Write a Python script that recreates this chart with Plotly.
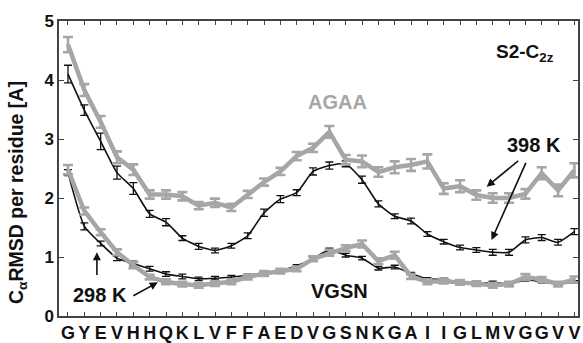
import plotly.graph_objects as go

residues = list("GYEVHHQKLVFFAEDVGSNKGAIIGLMVGGVV")
idx = list(range(len(residues)))

agaa_398 = [4.60, 3.83, 3.29, 2.69, 2.48, 2.06, 2.06, 2.03, 1.87, 1.92, 1.84, 2.06, 2.27, 2.45, 2.71, 2.85,
            3.12, 2.65, 2.62, 2.44, 2.52, 2.56, 2.62, 2.16, 2.20, 2.05, 2.00, 2.00, 2.07, 2.42, 2.13, 2.47]
agaa_398_err = [0.13, 0.10, 0.10, 0.10, 0.09, 0.07, 0.07, 0.07, 0.06, 0.07, 0.06, 0.06, 0.06, 0.06, 0.07, 0.07,
                0.10, 0.08, 0.10, 0.08, 0.10, 0.10, 0.12, 0.09, 0.10, 0.08, 0.08, 0.08, 0.08, 0.10, 0.10, 0.12]

vgsn_398 = [4.10, 3.49, 2.96, 2.43, 2.16, 1.73, 1.59, 1.32, 1.18, 1.11, 1.19, 1.36, 1.75, 1.98, 2.09, 2.45,
            2.55, 2.58, 2.31, 1.90, 1.69, 1.61, 1.39, 1.26, 1.16, 1.12, 1.08, 1.08, 1.29, 1.33, 1.25, 1.43]
vgsn_398_err = [0.15, 0.09, 0.14, 0.11, 0.10, 0.06, 0.06, 0.04, 0.05, 0.04, 0.04, 0.05, 0.06, 0.06, 0.05, 0.06,
                0.06, 0.05, 0.06, 0.05, 0.04, 0.05, 0.04, 0.04, 0.04, 0.04, 0.05, 0.05, 0.05, 0.05, 0.05, 0.05]

agaa_298 = [2.48, 1.78, 1.42, 1.08, 0.86, 0.66, 0.58, 0.54, 0.52, 0.55, 0.58, 0.66, 0.72, 0.76, 0.80, 0.97,
            1.07, 1.15, 1.22, 0.93, 1.03, 0.67, 0.58, 0.59, 0.57, 0.55, 0.52, 0.54, 0.66, 0.62, 0.54, 0.62]
agaa_298_err = [0.08, 0.06, 0.05, 0.05, 0.05, 0.04, 0.04, 0.04, 0.04, 0.04, 0.04, 0.04, 0.04, 0.04, 0.04, 0.04,
                0.05, 0.05, 0.06, 0.05, 0.06, 0.04, 0.04, 0.04, 0.04, 0.04, 0.04, 0.04, 0.05, 0.04, 0.04, 0.05]

vgsn_298 = [2.43, 1.52, 1.23, 0.98, 0.89, 0.80, 0.71, 0.67, 0.63, 0.64, 0.66, 0.69, 0.73, 0.77, 0.85, 0.97,
            1.12, 1.03, 0.98, 0.81, 0.83, 0.72, 0.63, 0.62, 0.57, 0.55, 0.57, 0.54, 0.61, 0.58, 0.54, 0.58]
vgsn_298_err = [0.05, 0.06, 0.04, 0.04, 0.04, 0.04, 0.04, 0.04, 0.03, 0.03, 0.03, 0.02, 0.02, 0.02, 0.02, 0.03,
                0.03, 0.03, 0.03, 0.03, 0.03, 0.02, 0.02, 0.02, 0.02, 0.02, 0.02, 0.02, 0.02, 0.02, 0.02, 0.02]

GRAY = "#a6a6a6"
BLACK = "#111111"
FONT = "Liberation Sans, Arial, sans-serif"

fig = go.Figure()

def black_trace(y, err, name):
    return go.Scatter(x=idx, y=y, mode="lines", name=name,
                      line=dict(color=BLACK, width=1.6, shape="spline", smoothing=0.5),
                      error_y=dict(type="data", array=err, visible=True, color=BLACK,
                                   thickness=1.3, width=4),
                      showlegend=False)

def gray_trace(y, err, name):
    return go.Scatter(x=idx, y=y, mode="lines", name=name,
                      line=dict(color=GRAY, width=4.5),
                      error_y=dict(type="data", array=err, visible=True, color=GRAY,
                                   thickness=2.6, width=5),
                      showlegend=False)

fig.add_trace(black_trace(vgsn_398, vgsn_398_err, "VGSN 398 K"))
fig.add_trace(black_trace(vgsn_298, vgsn_298_err, "VGSN 298 K"))
fig.add_trace(gray_trace(agaa_398, agaa_398_err, "AGAA 398 K"))
fig.add_trace(gray_trace(agaa_298, agaa_298_err, "AGAA 298 K"))

bold = dict(family=FONT, size=20, color=BLACK, weight="bold")

annotations = [
    dict(x=16.5, y=3.62, text="AGAA", showarrow=False,
         font=dict(family=FONT, size=20, color=GRAY, weight="bold")),
    dict(x=16.6, y=0.43, text="VGSN", showarrow=False, font=bold),
    dict(x=1.96, y=0.35, text="298 K", showarrow=False, font=bold),
    dict(x=28.5, y=2.90, text="398 K", showarrow=False, font=bold),
    dict(x=28.0, y=4.45, text="S2-C<sub>2z</sub>", showarrow=False,
         font=dict(family=FONT, size=19, color=BLACK, weight="bold")),
    # arrows
    dict(x=1.77, y=1.08, ax=1.77, ay=0.67, axref="x", ayref="y", xref="x", yref="y",
         text="", showarrow=True, arrowhead=2, arrowsize=1, arrowwidth=1.6, arrowcolor=BLACK),
    dict(x=5.5, y=0.57, ax=3.91, ay=0.33, axref="x", ayref="y", xref="x", yref="y",
         text="", showarrow=True, arrowhead=2, arrowsize=1, arrowwidth=1.6, arrowcolor=BLACK),
    dict(x=25.63, y=2.19, ax=27.65, ay=2.65, axref="x", ayref="y", xref="x", yref="y",
         text="", showarrow=True, arrowhead=2, arrowsize=1, arrowwidth=1.6, arrowcolor=BLACK),
    dict(x=25.93, y=1.29, ax=28.07, ay=2.62, axref="x", ayref="y", xref="x", yref="y",
         text="", showarrow=True, arrowhead=2, arrowsize=1, arrowwidth=1.6, arrowcolor=BLACK),
    # y-axis title
    dict(x=-0.081, y=0.42, xref="paper", yref="paper", textangle=-90,
         xanchor="center", yanchor="middle",
         text="C<sub>α</sub>RMSD per residue [A]", showarrow=False,
         font=dict(family=FONT, size=19.5, color=BLACK, weight="bold")),
]

fig.update_layout(
    width=583, height=343,
    margin=dict(l=59, r=4.5, t=20.5, b=27, autoexpand=False),
    paper_bgcolor="white", plot_bgcolor="white",
    annotations=annotations,
    xaxis=dict(range=[-0.55, 31.22], tickvals=idx, ticktext=residues, tickangle=0,
               automargin=False,
               ticks="inside", ticklen=4, tickwidth=1.2, tickcolor="#444",
               showline=True, linecolor="#444", linewidth=1.5, mirror="ticks",
               showgrid=False, zeroline=False, ticklabelstandoff=0,
               tickfont=dict(family=FONT, size=18, color=BLACK, weight="bold")),
    yaxis=dict(range=[0, 5], tickvals=[0, 1, 2, 3, 4, 5], automargin=False,
               ticks="inside", ticklen=5, tickwidth=1.2, tickcolor="#444",
               showline=True, linecolor="#444", linewidth=1.5, mirror="ticks",
               showgrid=False, zeroline=False,
               tickfont=dict(family=FONT, size=17, color=BLACK, weight="bold")),
)

fig.write_html("out.html")
